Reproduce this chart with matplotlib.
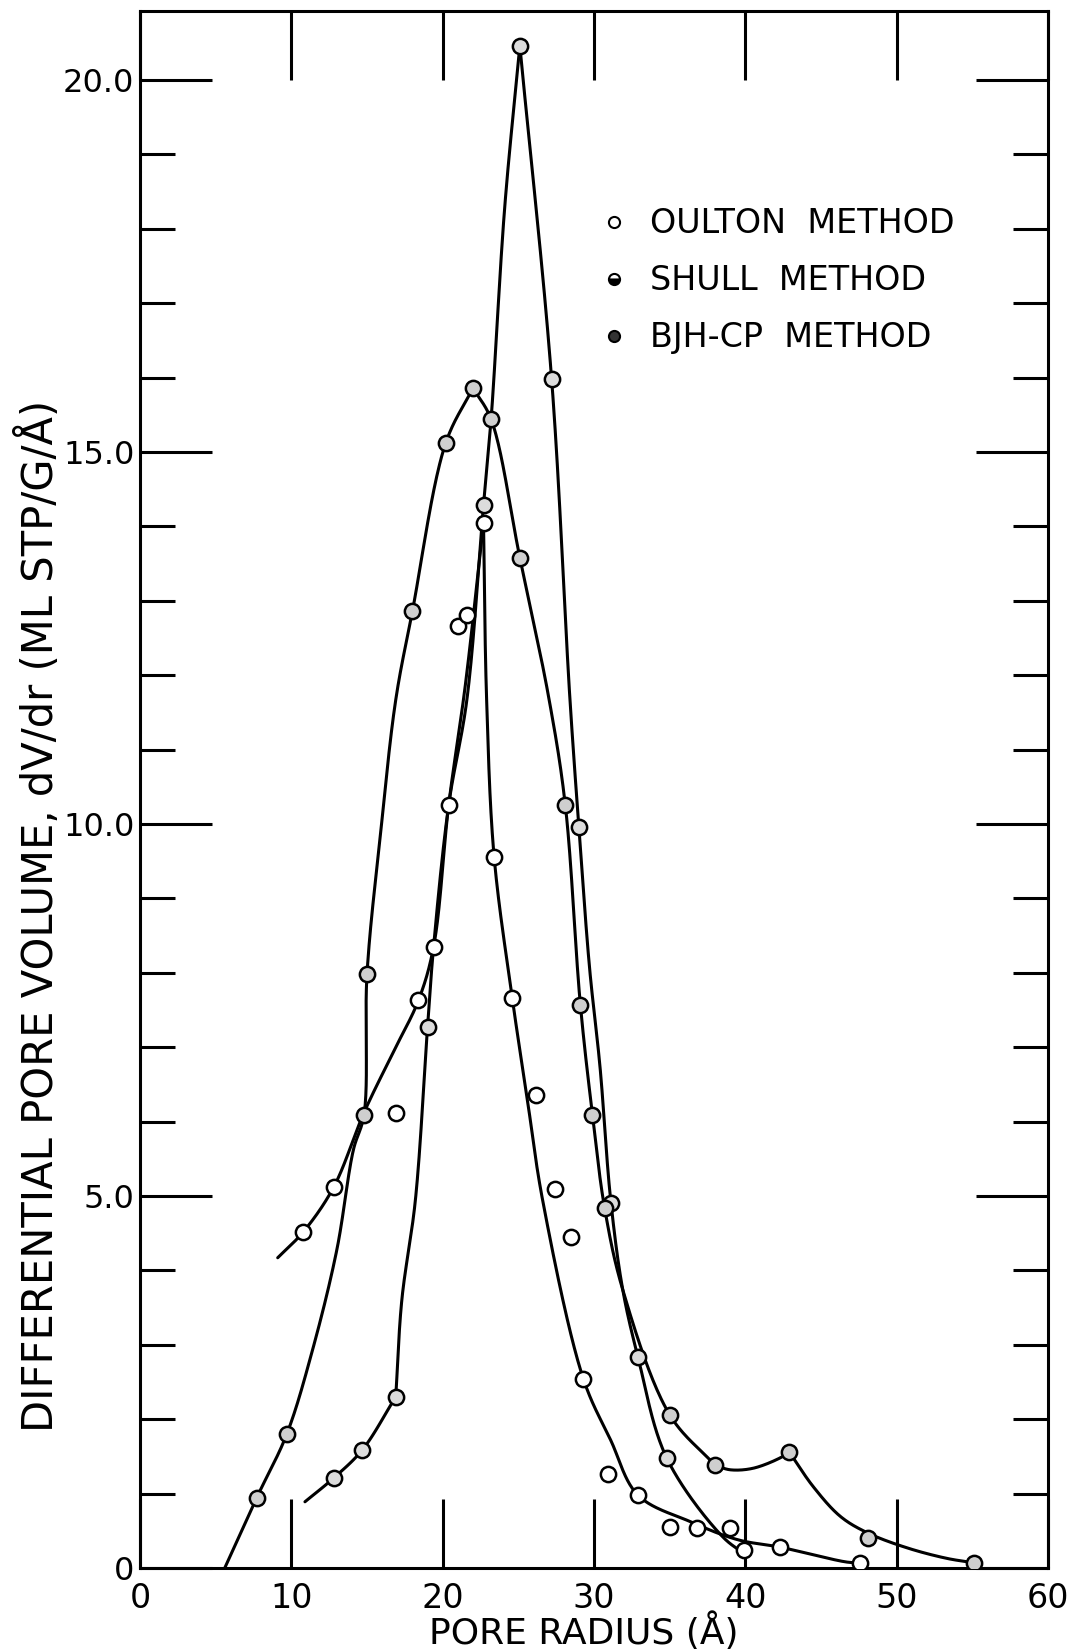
import numpy as np
import matplotlib.pyplot as plt
from matplotlib.lines import Line2D

# measured points: pore radius (A) and dV/dr (ml STP/g/A)
oulton_r = [10.8, 12.8, 16.9, 18.4, 19.4, 20.4, 21.0, 21.6, 22.7, 23.4, 24.6, 26.2,
            27.4, 28.5, 29.3, 30.9, 32.9, 35.0, 36.8, 39.0, 39.9, 42.3, 47.6]
oulton_v = [4.52, 5.12, 6.12, 7.63, 8.35, 10.26, 12.66, 12.81, 14.05, 9.56, 7.66, 6.36,
            5.09, 4.45, 2.54, 1.26, 0.98, 0.55, 0.54, 0.54, 0.24, 0.28, 0.07]

shull_r = [12.8, 14.7, 16.9, 19.0, 22.7, 25.1, 27.2, 29.0, 31.1, 32.9, 34.8]
shull_v = [1.21, 1.59, 2.30, 7.27, 14.29, 20.46, 15.98, 9.96, 4.90, 2.84, 1.48]

bjh_r = [7.7, 9.7, 14.8, 15.0, 18.0, 20.2, 22.0, 23.2, 25.1, 28.1, 29.1, 29.9,
         30.7, 35.0, 38.0, 42.9, 48.1, 55.1]
bjh_v = [0.94, 1.80, 6.09, 7.98, 12.86, 15.12, 15.86, 15.44, 13.58, 10.26, 7.57, 6.09,
         4.84, 2.06, 1.38, 1.56, 0.40, 0.07]

# hand drawn curves (knots), split at the cusps
oulton_rise_r = [9.1, 10.8, 12.8, 14.8, 16.7, 18.4, 19.4, 20.4, 21.5, 22.7]
oulton_rise_v = [4.17, 4.52, 5.12, 6.12, 6.92, 7.63, 8.35, 10.26, 11.87, 14.05]
oulton_fall_r = [22.7, 22.9, 23.4, 24.6, 25.6, 26.6, 29.3, 31.1, 32.9, 36.4, 39.5, 42.3, 46.7, 47.6]
oulton_fall_v = [14.05, 11.7, 9.56, 7.66, 6.29, 4.95, 2.54, 1.72, 0.98, 0.62, 0.38, 0.28, 0.08, 0.07]

shull_low_r = [10.9, 12.8, 14.7, 16.9]
shull_low_v = [0.89, 1.21, 1.59, 2.30]
shull_rise_r = [16.9, 17.3, 18.2, 19.0, 19.4, 20.4, 21.6, 22.7, 23.2, 24.1, 25.1]
shull_rise_v = [2.30, 3.60, 4.95, 7.27, 8.35, 10.26, 11.67, 14.29, 15.44, 18.29, 20.46]
shull_fall_r = [25.1, 27.2, 28.4, 29.0, 29.7, 30.4, 31.1, 31.9, 32.9, 34.8, 38.5, 40.1]
shull_fall_v = [20.46, 15.98, 11.71, 9.96, 8.08, 6.73, 4.95, 3.74, 2.84, 1.48, 0.42, 0.17]

bjh_rise_r = [5.6, 7.7, 9.7, 11.4, 13.0, 14.1, 14.8, 15.0, 15.9, 16.9, 18.0, 20.2, 22.0]
bjh_rise_v = [0.0, 0.94, 1.80, 2.93, 4.27, 5.62, 6.09, 7.98, 9.88, 11.67, 12.86, 15.12, 15.86]
bjh_fall_r = [22.0, 23.2, 25.1, 27.0, 28.1, 29.1, 29.9, 30.7, 31.9, 35.0, 38.0]
bjh_fall_v = [15.86, 15.44, 13.58, 11.71, 10.26, 7.57, 6.09, 4.84, 3.74, 2.06, 1.38]
bjh_dip_r = [38.0, 39.0, 40.5, 42.3, 42.9]
bjh_dip_v = [1.38, 1.32, 1.34, 1.48, 1.56]
bjh_tail_r = [42.9, 44.5, 46.3, 48.1, 50.7, 53.3, 55.1]
bjh_tail_v = [1.56, 1.09, 0.69, 0.47, 0.27, 0.13, 0.07]

legend_labels = ['OULTON  METHOD', 'SHULL  METHOD', 'BJH-CP  METHOD']

YS = 4.9  # y stretch so the spline sees roughly screen proportions


def smooth(r, v, n=40):
    """centripetal catmull-rom through the curve knots"""
    p = np.column_stack([r, np.asarray(v) * YS])
    p = np.vstack([2 * p[0] - p[1], p, 2 * p[-1] - p[-2]])
    out = [p[1:2]]
    for i in range(1, len(p) - 2):
        p0, p1, p2, p3 = p[i - 1], p[i], p[i + 1], p[i + 2]
        t0 = 0.0
        t1 = t0 + np.hypot(*(p1 - p0)) ** 0.5
        t2 = t1 + np.hypot(*(p2 - p1)) ** 0.5
        t3 = t2 + np.hypot(*(p3 - p2)) ** 0.5
        t = np.linspace(t1, t2, n)[1:, None]
        a1 = (t1 - t) / (t1 - t0) * p0 + (t - t0) / (t1 - t0) * p1
        a2 = (t2 - t) / (t2 - t1) * p1 + (t - t1) / (t2 - t1) * p2
        a3 = (t3 - t) / (t3 - t2) * p2 + (t - t2) / (t3 - t2) * p3
        b1 = (t2 - t) / (t2 - t0) * a1 + (t - t0) / (t2 - t0) * a2
        b2 = (t3 - t) / (t3 - t1) * a2 + (t - t1) / (t3 - t1) * a3
        out.append((t2 - t) / (t2 - t1) * b1 + (t - t1) / (t2 - t1) * b2)
    out = np.vstack(out)
    return out[:, 0], out[:, 1] / YS


fig = plt.figure(figsize=(10.8, 16.5), dpi=100)
ax = fig.add_axes([140 / 1080, 1 - 1568 / 1650, 908 / 1080, 1557 / 1650])

curves = [(oulton_rise_r, oulton_rise_v), (oulton_fall_r, oulton_fall_v),
          (shull_low_r, shull_low_v), (shull_rise_r, shull_rise_v), (shull_fall_r, shull_fall_v),
          (bjh_rise_r, bjh_rise_v), (bjh_fall_r, bjh_fall_v), (bjh_dip_r, bjh_dip_v),
          (bjh_tail_r, bjh_tail_v)]
for cr, cv in curves:
    xs, ys = smooth(cr, cv)
    ax.plot(xs, ys, color='black', lw=2.2, solid_capstyle='round', zorder=2)

ax.plot(oulton_r, oulton_v, 'o', ms=11, mfc='white', mec='black', mew=1.8, zorder=3)
ax.plot(shull_r, shull_v, 'o', ms=11, mfc='#dcdcdc', mec='black', mew=1.8, zorder=3)
ax.plot(bjh_r, bjh_v, 'o', ms=11, mfc='#cfcfcf', mec='black', mew=1.8, zorder=3)

ax.set_xlim(0, 60)
ax.set_ylim(0, 1557 / 74.4)
ax.set_xticks([0, 10, 20, 30, 40, 50, 60])
ax.set_yticks([0, 5, 10, 15, 20])
ax.set_yticklabels(['0', '5.0', '10.0', '15.0', '20.0'])
ax.set_yticks(np.arange(0, 21, 1), minor=True)
ax.tick_params(axis='both', which='both', direction='in', top=True, right=True,
               width=2.2, colors='black')
ax.tick_params(axis='x', which='major', length=50, labelsize=24, pad=10)
ax.tick_params(axis='y', which='major', length=52, labelsize=23, pad=4)
ax.tick_params(axis='y', which='minor', length=25)
for s in ax.spines.values():
    s.set_linewidth(2.2)

handles = [
    Line2D([], [], ls='none', marker='o', ms=8, mfc='white', mec='black', mew=1.5),
    Line2D([], [], ls='none', marker='o', ms=8, mfc='black', mfcalt='white',
           fillstyle='bottom', mec='black', mew=1.5),
    Line2D([], [], ls='none', marker='o', ms=8, mfc='#333333', mec='black', mew=1.5),
]
ax.legend(handles, legend_labels, loc='upper left', bbox_to_anchor=(0.504, 0.874),
          frameon=False, fontsize=24, handlelength=1.0, handletextpad=0.56,
          labelspacing=0.72, borderaxespad=0, borderpad=0)

fig.text(40 / 1080, 1 - 916 / 1650, 'DIFFERENTIAL PORE VOLUME, dV/dr (ML STP/G/Å)',
         rotation=90, fontsize=30, ha='center', va='center')
fig.text(584 / 1080, 1 - 1632 / 1650, 'PORE RADIUS (Å)', fontsize=26,
         ha='center', va='center')

fig.savefig('out.png', dpi=100)
